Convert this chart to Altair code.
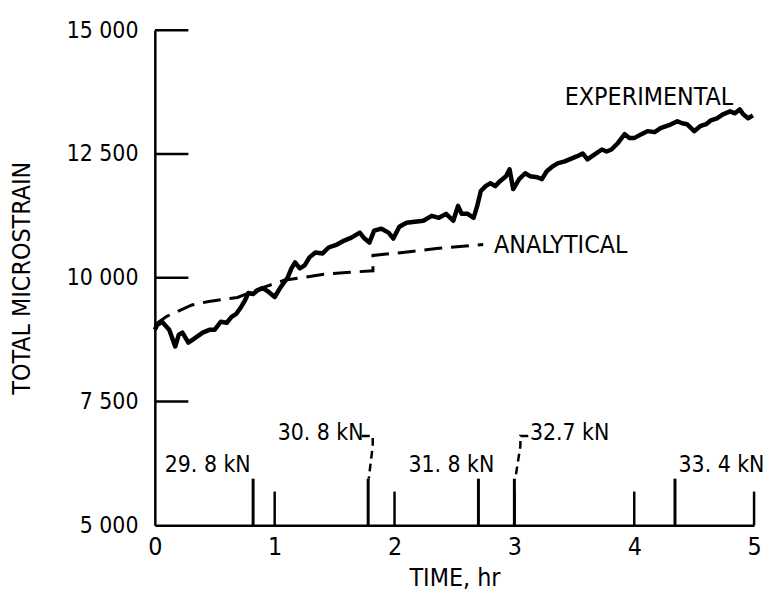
import altair as alt
import pandas as pd

FONT = "Liberation Sans Narrow, DejaVu Sans Condensed, sans-serif"

# Experimental curve (time hr, total microstrain)
exp_t = [0.00, 0.02, 0.06, 0.12, 0.17, 0.20, 0.23, 0.28, 0.34, 0.40, 0.46, 0.50, 0.55, 0.60,
         0.64, 0.68, 0.72, 0.75, 0.78, 0.82, 0.86, 0.90, 0.94, 1.00, 1.05, 1.11, 1.14, 1.17,
         1.21, 1.25, 1.29, 1.34, 1.40, 1.45, 1.52, 1.58, 1.64, 1.71, 1.75, 1.79, 1.83, 1.89,
         1.95, 1.99, 2.04, 2.10, 2.17, 2.24, 2.31, 2.37, 2.43, 2.49, 2.53, 2.56, 2.61, 2.66,
         2.69, 2.72, 2.76, 2.80, 2.84, 2.88, 2.93, 2.96, 2.99, 3.04, 3.09, 3.13, 3.19, 3.23,
         3.27, 3.32, 3.36, 3.42, 3.46, 3.52, 3.57, 3.61, 3.67, 3.73, 3.77, 3.81, 3.86, 3.92,
         3.96, 4.00, 4.06, 4.11, 4.17, 4.22, 4.29, 4.36, 4.40, 4.44, 4.50, 4.55, 4.60, 4.64,
         4.69, 4.74, 4.80, 4.84, 4.88, 4.91, 4.95, 4.99]
exp_s = [8950, 9050, 9110, 8950, 8610, 8850, 8890, 8690, 8790, 8890, 8950, 8950, 9110, 9090,
         9210, 9270, 9410, 9530, 9690, 9670, 9750, 9790, 9730, 9610, 9810, 10010, 10190, 10310,
         10190, 10250, 10410, 10510, 10490, 10610, 10670, 10750, 10810, 10910, 10790, 10710, 10950, 10990,
         10910, 10790, 11030, 11110, 11130, 11150, 11250, 11210, 11290, 11150, 11450, 11290, 11290, 11210,
         11450, 11750, 11850, 11910, 11850, 11950, 12050, 12190, 11790, 11990, 12110, 12050, 12030, 11990,
         12150, 12250, 12310, 12350, 12390, 12450, 12510, 12390, 12490, 12590, 12550, 12590, 12710, 12900,
         12820, 12820, 12900, 12960, 12940, 13020, 13080, 13160, 13120, 13100, 12960, 13060, 13100, 13180,
         13220, 13300, 13360, 13320, 13400, 13300, 13220, 13280]

# Analytical curve
ana_t = [0.00, 0.10, 0.20, 0.31, 0.45, 0.59, 0.69, 0.78, 0.90, 1.08, 1.25, 1.41, 1.63, 1.82,
         1.82, 2.07, 2.35, 2.74]
ana_s = [9050, 9220, 9330, 9450, 9520, 9570, 9600, 9690, 9800, 9950, 10010, 10070, 10110, 10140,
         10450, 10510, 10590, 10670]

# Load-change markers
load_t = [0.82, 1.78, 2.70, 3.00, 4.34]
load_top = [5940, 5940, 5940, 5940, 5940]
load_labels = ["29. 8 kN", "30. 8 kN", "31. 8 kN", "32.7 kN", "33. 4 kN"]
label_t = [0.083, 1.025, 2.116, 3.13, 4.37]
label_s = [6222, 6860, 6222, 6860, 6222]

# Leader lines (label -> marker)
lead1_t = [1.727, 1.818, 1.818, 1.785]
lead1_s = [6804, 6804, 6603, 5942]
lead2_t = [3.116, 3.05, 3.05, 3.008]
lead2_s = [6804, 6804, 6603, 5942]

# Axis ticks (drawn inward)
xticks = [1, 2, 3, 4, 5]
xtick_top = 5680
yticks = [7500, 10000, 12500, 15000]
ytick_len = 0.28

series_labels = ["EXPERIMENTAL", "ANALYTICAL"]
series_lt = [3.42, 2.83]
series_ls = [13657, 10650]

xs = alt.Scale(domain=[0, 5], nice=False, zero=False)
ys = alt.Scale(domain=[5000, 15000], nice=False, zero=False)

XAX = alt.Axis(
    title="TIME, hr", values=[0, 1, 2, 3, 4, 5], format="d", ticks=False, grid=False,
    domainColor="black", domainWidth=2.5, labelFont=FONT, labelFontSize=25,
    labelColor="black", labelPadding=10, titleFont=FONT, titleFontSize=25,
    titleFontWeight="normal", titleColor="black", titlePadding=6, labelFlush=False)
YAX = alt.Axis(
    title="TOTAL MICROSTRAIN", values=[5000, 7500, 10000, 12500, 15000],
    labelExpr="replace(format(datum.value, ','), ',', ' ')", ticks=False, grid=False,
    domainColor="black", domainWidth=2.5, labelFont=FONT, labelFontSize=23,
    labelColor="black", labelPadding=17, titleFont=FONT, titleFontSize=25,
    titleFontWeight="normal", titleColor="black", titlePadding=32, labelFlush=False)

exp_df = pd.DataFrame({"t": exp_t, "s": exp_s, "o": list(range(len(exp_t)))})
ana_df = pd.DataFrame({"t": ana_t, "s": ana_s, "o": list(range(len(ana_t)))})
load_df = pd.DataFrame({"t": load_t, "s": [5000] * len(load_t), "top": load_top})
lab_df = pd.DataFrame({"t": label_t, "s": label_s, "txt": load_labels})
lead_df = pd.DataFrame({
    "t": lead1_t + lead2_t,
    "s": lead1_s + lead2_s,
    "g": ["a"] * 4 + ["b"] * 4,
    "o": list(range(4)) + list(range(4)),
})
xt_df = pd.DataFrame({"t": xticks, "s": [5000] * len(xticks), "top": [xtick_top] * len(xticks)})
yt_df = pd.DataFrame({"s": yticks, "t": [0] * len(yticks), "x1": [ytick_len] * len(yticks)})
ser_df = pd.DataFrame({"t": series_lt, "s": series_ls, "txt": series_labels})


def X():
    return alt.X("t:Q", scale=xs, axis=XAX)


def Y():
    return alt.Y("s:Q", scale=ys, axis=YAX)


exp_line = alt.Chart(exp_df).mark_line(color="black", strokeWidth=4.5, strokeJoin="round").encode(
    x=X(), y=Y(), order="o:Q")

ana_line = alt.Chart(ana_df).mark_line(color="black", strokeWidth=3, strokeDash=[18, 9]).encode(
    x=X(), y=Y(), order="o:Q")

loads = alt.Chart(load_df).mark_rule(color="black", strokeWidth=3).encode(
    x=X(), y=Y(), y2="top:Q")

xt = alt.Chart(xt_df).mark_rule(color="black", strokeWidth=2.5).encode(
    x=X(), y=Y(), y2="top:Q")

yt = alt.Chart(yt_df).mark_rule(color="black", strokeWidth=2.5).encode(
    x=X(), x2="x1:Q", y=Y())

leads = alt.Chart(lead_df).mark_line(color="black", strokeWidth=2.5, strokeDash=[8, 5]).encode(
    x=X(), y=Y(), detail="g:N", order="o:Q")

labels = alt.Chart(lab_df).mark_text(align="left", baseline="middle", font=FONT, fontSize=23,
                                      color="black").encode(
    x=X(), y=Y(), text="txt:N")

ser_labels = alt.Chart(ser_df).mark_text(align="left", baseline="middle", font=FONT, fontSize=25,
                                         color="black").encode(
    x=X(), y=Y(), text="txt:N")

chart = alt.layer(exp_line, ana_line, loads, xt, yt, leads, labels, ser_labels).properties(
    width=604, height=499,
    autosize=alt.AutoSizeParams(type="none"),
    padding={"left": 148, "top": 20, "right": 10, "bottom": 70},
    background="white",
).configure_view(stroke=None)

chart.save("out.html", embed_options={"renderer": "svg", "actions": False})
